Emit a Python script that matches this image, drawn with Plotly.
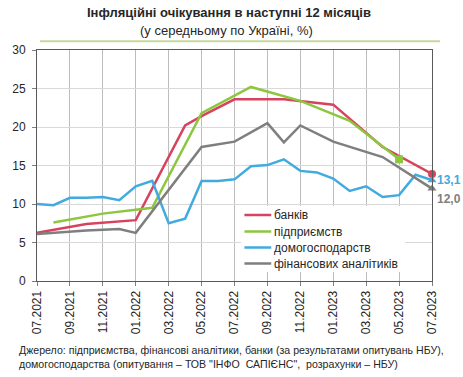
import plotly.graph_objects as go

# ---- data ----
months = ["07.2021", "08.2021", "09.2021", "10.2021", "11.2021", "12.2021",
          "01.2022", "02.2022", "03.2022", "04.2022", "05.2022", "06.2022",
          "07.2022", "08.2022", "09.2022", "10.2022", "11.2022", "12.2022",
          "01.2023", "02.2023", "03.2023", "04.2023", "05.2023", "06.2023",
          "07.2023"]
tick_labels = months[::2]

banks_dates = ["07.2021", "10.2021", "01.2022", "04.2022", "05.2022", "07.2022",
               "10.2022", "01.2023", "04.2023", "05.2023", "07.2023"]
banks_vals = [6.25, 7.4, 7.9, 20.2, 21.4, 23.6, 23.6, 22.9, 17.4, 16.2, 13.9]

firms_dates = ["08.2021", "11.2021", "02.2022", "05.2022", "08.2022", "11.2022",
               "02.2023", "05.2023"]
firms_vals = [7.6, 8.75, 9.5, 21.8, 25.2, 23.4, 20.8, 15.8]

house_dates = months
house_vals = [10.0, 9.85, 10.8, 10.8, 10.9, 10.5, 12.3, 13.0, 7.5, 8.1, 13.0, 13.0,
              13.2, 14.9, 15.05, 15.8, 14.3, 14.1, 13.3, 11.7, 12.3, 10.9, 11.15,
              13.8, 13.1]

anal_dates = ["07.2021", "10.2021", "12.2021", "01.2022", "05.2022", "07.2022",
              "09.2022", "10.2022", "11.2022", "01.2023", "04.2023", "07.2023"]
anal_vals = [6.1, 6.55, 6.75, 6.25, 17.4, 18.1, 20.5, 18.0, 20.2, 18.1, 16.1, 12.0]

names = ["банків", "підприємств", "домогосподарств", "фінансових аналітиків"]
colors = ["#d7435e", "#8dc63f", "#41aadf", "#7f7f7f"]
end_symbols = ["circle", "square", "triangle-up", "triangle-up"]

title = "Інфляційні очікування в наступні 12 місяців"
subtitle = "(у середньому по Україні, %)"
source1 = "Джерело: підприємства, фінансові аналітики, банки (за результатами опитувань НБУ),"
source2 = "домогосподарства (опитування – ТОВ \"ІНФО  САПІЄНС\",  розрахунки – НБУ)"

idx = {m: i for i, m in enumerate(months)}

series = [(banks_dates, banks_vals), (firms_dates, firms_vals),
          (house_dates, house_vals), (anal_dates, anal_vals)]

# plot-area geometry (pixels) used to place paper-referenced decorations
L, R, T, B = 34, 432, 50, 281
W, H = R - L, B - T


def px(x):
    return (x - L) / W


def py(y):
    return (B - y) / H


fig = go.Figure()
for (d, v), name, c in zip(series, names, colors):
    fig.add_trace(go.Scatter(x=[idx[m] for m in d], y=v, mode="lines", name=name,
                             line=dict(color=c, width=2.5), showlegend=False))
for (d, v), c, s in zip(series, colors, end_symbols):
    fig.add_trace(go.Scatter(x=[idx[d[-1]]], y=[v[-1]], mode="markers", showlegend=False,
                             cliponaxis=False,
                             marker=dict(color=c, size=8, symbol=s)))

# end labels for households and analysts
for (d, v), c, ysh in [(series[2], colors[2], 0), (series[3], colors[3], -10)]:
    fig.add_annotation(x=idx[d[-1]], y=v[-1], text="<b>" + f"{v[-1]:.1f}".replace(".", ",") + "</b>",
                       showarrow=False, xanchor="left", yanchor="middle", xshift=3, yshift=ysh,
                       font=dict(size=12, color=c))

# legend (drawn manually to match the compact row spacing)
leg_rows = [215, 231.5, 247.5, 263.5]
fig.add_shape(type="rect", xref="paper", yref="paper", x0=px(240), x1=px(405),
              y0=py(272), y1=py(206), fillcolor="white", line=dict(width=0), layer="above")
for name, c, yy in zip(names, colors, leg_rows):
    fig.add_shape(type="line", xref="paper", yref="paper", x0=px(243), x1=px(270),
                  y0=py(yy), y1=py(yy), line=dict(color=c, width=2.5), layer="above")
    fig.add_annotation(xref="paper", yref="paper", x=px(271), y=py(yy), text=name,
                       showarrow=False, xanchor="left", yanchor="middle",
                       font=dict(size=12, color="#262626"))

fig.add_annotation(xref="paper", yref="paper", x=px(227), y=py(13), text="<b>" + title + "</b>",
                   showarrow=False, xanchor="center", yanchor="middle",
                   font=dict(size=13, color="#262626"))
fig.add_annotation(xref="paper", yref="paper", x=px(225), y=py(30), text=subtitle,
                   showarrow=False, xanchor="center", yanchor="middle",
                   font=dict(size=13, color="#262626"))
fig.add_annotation(xref="paper", yref="paper", x=px(14), y=py(356.5),
                   text=source1 + "<br>" + source2,
                   showarrow=False, xanchor="left", yanchor="middle", align="left",
                   font=dict(size=10.6, color="#262626"))

fig.add_shape(type="line", xref="paper", yref="paper", x0=px(37), x1=px(440),
              y0=py(41.3), y1=py(41.3), line=dict(color="#c4d89f", width=2))

fig.update_layout(
    width=463, height=377,
    margin=dict(l=L, r=463 - R, t=T, b=377 - B),
    paper_bgcolor="white", plot_bgcolor="white",
    font=dict(family="Liberation Sans, Arial, sans-serif", size=12, color="#262626"),
    showlegend=False,
    xaxis=dict(range=[0, 24], tickvals=[idx[m] for m in tick_labels], ticktext=tick_labels,
               tickangle=-90, showgrid=True, gridcolor="#bdbdbd", gridwidth=1,
               showline=True, linecolor="#595959", linewidth=1, mirror=True,
               ticks="outside", ticklen=4, tickcolor="#7f7f7f", zeroline=False),
    yaxis=dict(range=[0, 30], dtick=5, showgrid=True, gridcolor="#d9d9d9", gridwidth=1,
               showline=True, linecolor="#595959", linewidth=1, mirror=True,
               ticks="outside", ticklen=4, tickcolor="#7f7f7f", zeroline=False,
               ticklabelstandoff=4),
)

fig.write_html("out.html", config={"displayModeBar": False},
               post_script="document.body.style.margin='0';")
